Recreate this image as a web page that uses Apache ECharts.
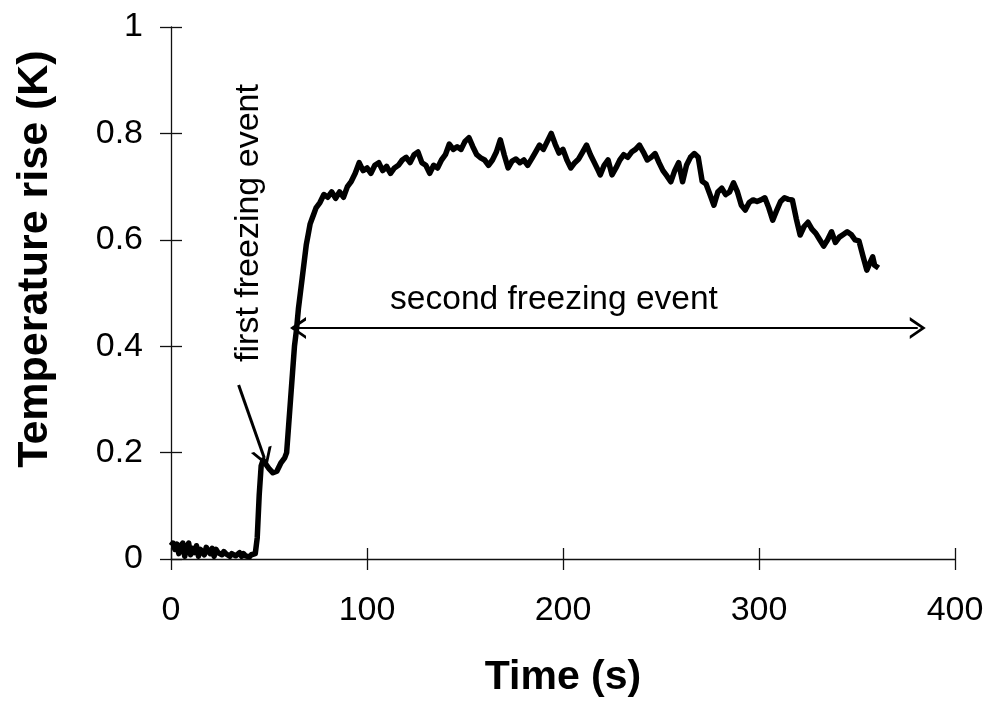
<!DOCTYPE html>
<html>
<head>
<meta charset="utf-8">
<script src="https://cdn.jsdelivr.net/npm/echarts@6/dist/echarts.min.js"></script>
<style>html,body{margin:0;padding:0;background:#fff;}#chart{width:991px;height:704px;}</style>
</head>
<body>
<div id="chart"></div>
<script>
const timeS = [0,1,2,3,4,5,6,7,8,9,10,11,12,13,14,15,16,17,18,19,20,21,22,23,24,25,26,27,28,29,30,31,32,33,34,35,36,37,38,39,40,41,42,
 43,44,45,46,47,48,50,52,54,56,58,59,60,61,62,63,64,65,66,67,68,69,70,71,72,73,74,76,78,80,82,84,86,88,90,92,94,96,98,
 100,102,104,106,108,110,112,114,116,118,120,122,124,126,128,130,132,134,136,138,140,142,144,146,148,150,152,154,156,158,
 160,162,164,166,168,170,172,174,176,178,180,182,184,186,188,190,192,194,196,198,200,202,204,206,208,210,212,214,216,218,
 219,221,223,225,227,229,231,233,235,237,239,241,243,245,247,249,251,253,255,257,259,261,263,265,267,269,271,273,275,277,
 279,281,283,285,287,289,291,293,295,297,299,301,303,305,307,309,311,313,315,317,319,321,323,325,327,329,331,333,335,337,
 339,341,343,345,347,349,351,353,355,357,358,359,361];
const tempK = [0.025,0.03,0.018,0.028,0.01,0.025,0.03,0.005,0.022,0.03,0.008,0.02,0.012,0.025,0.005,0.018,0.02,0.008,0.022,0.015,0.01,0.02,0.005,0.018,0.012,0.015,0.008,0.014,0.01,0.012,0.005,0.01,0.012,0.006,0.008,0.012,0.005,0.01,0.006,0.008,0.004,0.008,0.005,
 0.01,0.04,0.12,0.175,0.186,0.18,0.17,0.162,0.165,0.18,0.19,0.2,0.25,0.3,0.35,0.4,0.43,0.47,0.5,0.53,0.56,0.59,0.61,0.63,0.64,0.65,0.66,0.67,0.685,0.68,0.69,0.678,0.69,0.68,0.7,0.71,0.725,0.745,0.73,
 0.735,0.725,0.74,0.745,0.73,0.738,0.725,0.735,0.74,0.75,0.755,0.745,0.76,0.765,0.745,0.74,0.725,0.74,0.735,0.75,0.76,0.78,0.77,0.775,0.77,0.785,0.792,0.775,0.76,0.754,
 0.75,0.74,0.75,0.765,0.788,0.76,0.735,0.748,0.752,0.745,0.75,0.74,0.752,0.765,0.778,0.77,0.785,0.8,0.78,0.763,0.77,0.75,0.735,0.745,0.752,0.765,0.778,0.76,0.745,0.73,
 0.722,0.74,0.75,0.722,0.735,0.75,0.76,0.755,0.765,0.77,0.778,0.765,0.75,0.755,0.762,0.745,0.73,0.72,0.709,0.73,0.745,0.709,0.74,0.755,0.762,0.755,0.71,0.705,0.685,0.665,
 0.69,0.697,0.685,0.69,0.707,0.69,0.665,0.656,0.67,0.675,0.672,0.675,0.679,0.66,0.637,0.655,0.672,0.679,0.676,0.675,0.64,0.609,0.625,0.633,0.62,0.612,0.6,0.588,0.6,0.615,
 0.595,0.605,0.61,0.615,0.61,0.6,0.598,0.57,0.543,0.56,0.568,0.552,0.547];
const xTicks = [0,100,200,300,400];
const yTicks = [0,0.2,0.4,0.6,0.8,1];

const FONT = "'Liberation Sans', Arial, sans-serif";
const chevron = 'path://M0,12 L6,0 L12,12 L10.2,12 L6,3.6 L1.8,12 Z';

const chart = echarts.init(document.getElementById('chart'), null, {renderer:'canvas'});
const lineData = timeS.map((t,i)=>[t,tempK[i]]);

const axisCommon = {
  type:'value',
  splitLine:{show:false},
  axisLine:{show:true, lineStyle:{color:'#111', width:1.3}},
  axisTick:{show:true, length:11, lineStyle:{color:'#111', width:1.3}},
};

chart.setOption({
  animation:false,
  backgroundColor:'#fff',
  grid:{left:171, right:36, top:27, bottom:145, containLabel:false},
  xAxis:[
    Object.assign({}, axisCommon, {min:xTicks[0], max:xTicks[xTicks.length-1], interval:100, position:'bottom',
      axisLabel:{fontSize:34, color:'#000', fontFamily:FONT, margin:35}}),
    Object.assign({}, axisCommon, {min:xTicks[0], max:xTicks[xTicks.length-1], interval:100, position:'bottom',
      axisLine:{show:false}, axisTick:{show:true, inside:true, length:11, lineStyle:{color:'#111', width:1.3}},
      axisLabel:{show:false}})
  ],
  yAxis:[
    Object.assign({}, axisCommon, {min:yTicks[0], max:yTicks[yTicks.length-1], interval:0.2, position:'left',
      axisLabel:{fontSize:34, color:'#000', fontFamily:FONT, margin:28,
        formatter:v=> (v===0||v===1)? String(v) : v.toFixed(1)}}),
    Object.assign({}, axisCommon, {min:yTicks[0], max:yTicks[yTicks.length-1], interval:0.2, position:'left',
      axisLine:{show:false}, axisTick:{show:true, inside:true, length:11, lineStyle:{color:'#111', width:1.3}},
      axisLabel:{show:false}})
  ],
  series:[{
    type:'line',
    xAxisIndex:0, yAxisIndex:0,
    data:lineData,
    showSymbol:false,
    smooth:false,
    lineStyle:{color:'#000', width:5.5, join:'round'},
    silent:true,
    markLine:{
      silent:true,
      animation:false,
      label:{show:false},
      lineStyle:{color:'#000', width:2.2, type:'solid'},
      symbolSize:[22,16],
      data:[
        [{coord:[34.5,0.327], symbol:'none', lineStyle:{width:3}}, {coord:[47.6,0.19], symbol:chevron, symbolSize:[22,18]}],
        [{coord:[64.8,0.434], symbol:chevron}, {coord:[381,0.434], symbol:chevron}]
      ]
    }
  }],
  graphic:[
    {type:'text', x:249, y:223, rotation:Math.PI/2, style:{text:'first freezing event', font:'34px '+FONT, fill:'#000', textAlign:'center', textVerticalAlign:'middle'}},
    {type:'text', x:554, y:300, style:{text:'second freezing event', font:'33.5px '+FONT, fill:'#000', textAlign:'center', textVerticalAlign:'middle'}},
    {type:'text', x:35, y:259, rotation:Math.PI/2, style:{text:'Temperature rise (K)', font:'bold 43px '+FONT, fill:'#000', textAlign:'center', textVerticalAlign:'middle'}},
    {type:'text', x:563, y:678, style:{text:'Time (s)', font:'bold 41px '+FONT, fill:'#000', textAlign:'center', textVerticalAlign:'middle'}}
  ]
});
</script>
</body>
</html>
